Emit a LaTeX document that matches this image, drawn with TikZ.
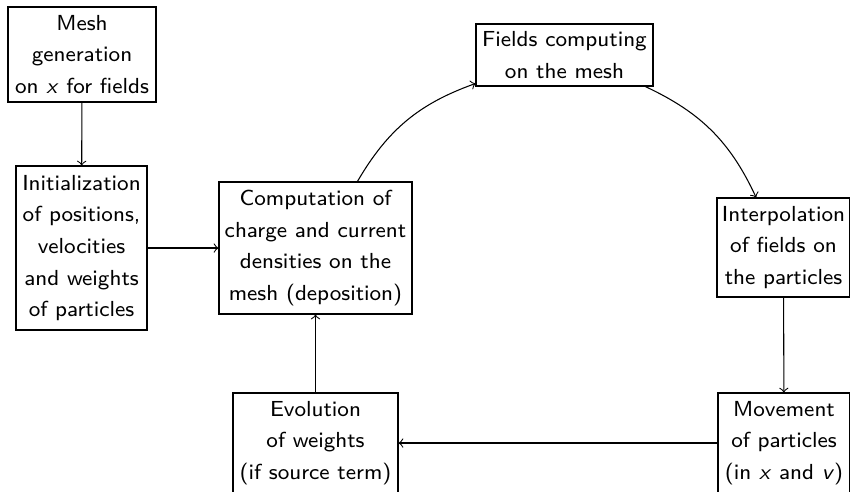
\documentclass[tikz,border=0pt]{standalone}
\usepackage{fontspec}
\begin{document}
\begin{tikzpicture}[x=0.3788pt,y=-0.3788pt,>=to,
  box/.style={draw, align=center, inner sep=0pt, font=\sffamily\fontsize{8.25}{12}\selectfont}]
\useasboundingbox (0,0) rectangle (850,491);
\node[box, minimum width={148*0.3788pt}, minimum height={95*0.3788pt}] (mesh) at (82,54.5) {Mesh\\generation\\on \textit{x} for fields};
\node[box, minimum width={131*0.3788pt}, minimum height={164*0.3788pt}] (init) at (81.5,248) {Initialization\\of positions,\\velocities\\and weights\\of particles};
\node[box, minimum width={193*0.3788pt}, minimum height={132*0.3788pt}] (comp) at (315.5,248) {Computation of\\charge and current\\densities on the\\mesh (deposition)};
\node[box, minimum width={177*0.3788pt}, minimum height={62*0.3788pt}] (fields) at (564.5,55) {Fields computing\\on the mesh};
\node[box, minimum width={133*0.3788pt}, minimum height={99*0.3788pt}] (interp) at (783.5,247.5) {Interpolation\\of fields on\\the particles};
\node[box, minimum width={132*0.3788pt}, minimum height={100*0.3788pt}] (move) at (784,443) {Movement\\of particles\\(in \textit{x} and \textit{v})};
\node[box, minimum width={165*0.3788pt}, minimum height={100*0.3788pt}] (evol) at (315.5,443) {Evolution\\of weights\\(if source term)};
\draw[->] (mesh) -- (init);
\draw[->] (init) -- (comp);
\draw[->] (comp) to[bend left=20] (fields);
\draw[->] (fields) to[bend left=20] (interp);
\draw[->] (interp) -- (move);
\draw[->] (move) -- (evol);
\draw[->] (evol) -- (comp);
\end{tikzpicture}
\end{document}
